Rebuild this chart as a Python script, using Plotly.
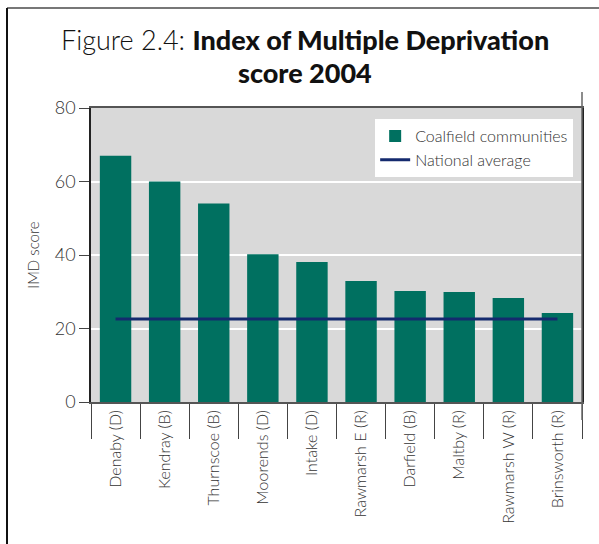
import plotly.graph_objects as go

categories = ["Denaby (D)", "Kendray (B)", "Thurnscoe (B)", "Moorends (D)", "Intake (D)",
              "Rawmarsh E (R)", "Darfield (B)", "Maltby (R)", "Rawmarsh W (R)", "Brinsworth (R)"]
imd_scores = [67.0, 60.0, 54.0, 40.2, 38.1, 32.9, 30.2, 29.9, 28.3, 24.2]
national_average = [22.6] * len(categories)
y_ticks = [0, 20, 40, 60, 80]

FONT = "Lato"
W, H = 599, 544
L, R, T, B = 91, 17, 108, 142
pw, ph = W - L - R, H - T - B


def px(x):
    return (x - L) / pw


def py(y):
    return (H - B - y) / ph


fig = go.Figure()
fig.add_trace(go.Bar(
    x=categories, y=imd_scores, name="Coalfield communities",
    marker=dict(color="#007060", line=dict(width=0)),
))
fig.add_trace(go.Scatter(
    x=categories, y=national_average, name="National average", mode="lines",
    line=dict(color="#142a6e", width=3),
))

title_font = dict(family=FONT, size=27, color="#111111")

fig.update_layout(
    width=W, height=H,
    margin=dict(l=L, r=R, t=T, b=B, autoexpand=False),
    paper_bgcolor="white",
    plot_bgcolor="#d9d9d9",
    bargap=0.36,
    font=dict(family=FONT, color="#333333", weight=300),
    showlegend=True,
    legend=dict(
        x=0.982, xanchor="right", y=0.962, yanchor="top",
        bgcolor="white", borderwidth=0,
        font=dict(family=FONT, size=16, color="#333333", weight=300),
        itemwidth=30, tracegroupgap=2,
    ),
    xaxis=dict(
        type="category", automargin=False,
        tickangle=-90,
        tickfont=dict(family=FONT, size=16, color="#333333", weight=300),
        ticks="outside", tickson="boundaries", ticklen=35, tickcolor="#444444", tickwidth=1,
        showline=True, linecolor="#555555", linewidth=1.5, mirror=True,
        showgrid=False,
    ),
    yaxis=dict(
        range=[0, 80], tickvals=y_ticks, automargin=False,
        tickfont=dict(family=FONT, size=18, color="#333333", weight=300),
        ticks="outside", ticklen=10, tickcolor="#444444", tickwidth=1,
        showline=True, linecolor="#222222", linewidth=1.5, mirror=True,
        showgrid=True, gridcolor="white", gridwidth=2,
        zeroline=False,
        title=dict(text="IMD score", font=dict(family=FONT, size=15, color="#333333", weight=300), standoff=12),
    ),
    annotations=[
        dict(xref="paper", yref="paper", x=px(305), y=py(39), xanchor="center", yanchor="middle",
             showarrow=False, font=title_font,
             text="<span style='font-weight:300'>Figure 2.4: </span><span style='font-weight:900'>Index of Multiple Deprivation</span>"),
        dict(xref="paper", yref="paper", x=px(305), y=py(72.5), xanchor="center", yanchor="middle",
             showarrow=False, font=title_font,
             text="<span style='font-weight:900'>score 2004</span>"),
    ],
    shapes=[
        dict(type="line", xref="paper", yref="paper", x0=px(7), x1=px(599), y0=py(8), y1=py(8),
             line=dict(color="#777777", width=2)),
        dict(type="line", xref="paper", yref="paper", x0=px(7), x1=px(7), y0=py(8), y1=py(544),
             line=dict(color="#111111", width=2)),
        dict(type="line", xref="paper", yref="paper", x0=1, x1=1, y0=py(92), y1=py(420),
             line=dict(color="#666666", width=1.5)),
    ],
)

fig.write_html("out.html", config={"displayModeBar": False},
               post_script="document.body.style.margin='0';")
